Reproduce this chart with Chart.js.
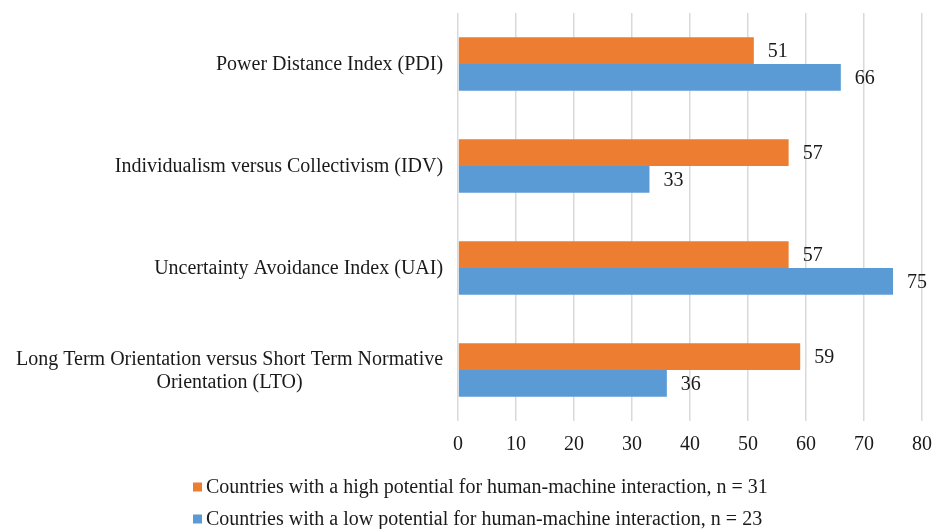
<!DOCTYPE html>
<html>
<head>
<meta charset="utf-8">
<script src="https://cdn.jsdelivr.net/npm/chart.js@4"></script>
<style>
  html, body { margin: 0; padding: 0; background: #fff; }
  #wrap { width: 932px; height: 529px; position: relative; }
</style>
</head>
<body>
<div id="wrap"><canvas id="chart"></canvas></div>
<script>
const categories = [
  ['Power Distance Index (PDI)'],
  ['Individualism versus Collectivism (IDV)'],
  ['Uncertainty Avoidance Index (UAI)'],
  ['Long Term Orientation versus Short Term Normative', 'Orientation (LTO)']
];
const highPotential = [51, 57, 57, 59];
const lowPotential = [66, 33, 75, 36];
const seriesNames = [
  'Countries with a high potential for human-machine interaction, n = 31',
  'Countries with a low potential for human-machine interaction, n = 23'
];
const seriesColors = ['#ED7D31', '#5B9BD5'];
const xTicks = { min: 0, max: 80, step: 10 };

const FONT = '"Liberation Serif", "Times New Roman", serif';
const TEXT = '#1a1a1a';
const LABEL_GAP = 15;

// value labels to the right of every bar
const valueLabels = {
  id: 'valueLabels',
  afterDatasetsDraw(chart) {
    const ctx = chart.ctx;
    ctx.save();
    ctx.font = '20px ' + FONT;
    ctx.fillStyle = TEXT;
    ctx.textAlign = 'left';
    ctx.textBaseline = 'middle';
    chart.data.datasets.forEach((ds, di) => {
      chart.getDatasetMeta(di).data.forEach((bar, i) => {
        ctx.fillText(ds.data[i], bar.x + 14, bar.y + 1);
      });
    });
    ctx.restore();
  }
};

// category labels: block right aligned, lines centred inside the block (Excel style)
const catLabels = {
  id: 'catLabels',
  afterDraw(chart) {
    const ctx = chart.ctx;
    const y = chart.scales.y;
    ctx.save();
    ctx.font = '20px ' + FONT;
    ctx.fillStyle = TEXT;
    ctx.textAlign = 'center';
    ctx.textBaseline = 'middle';
    const lh = 23;
    categories.forEach((lines, i) => {
      const w = Math.max(...lines.map(l => ctx.measureText(l).width));
      const cx = y.right - LABEL_GAP - w / 2;
      const cy = y.getPixelForTick(i) + 1;
      lines.forEach((l, k) => {
        ctx.fillText(l, cx, cy + (k - (lines.length - 1) / 2) * lh);
      });
    });
    ctx.restore();
  }
};

// legend, one row per series, small squares like the original
const rowLegend = {
  id: 'rowLegend',
  afterDraw(chart) {
    const ctx = chart.ctx;
    ctx.save();
    ctx.font = '20px ' + FONT;
    ctx.textAlign = 'left';
    ctx.textBaseline = 'middle';
    const x0 = 193;
    chart.data.datasets.forEach((ds, i) => {
      const cy = chart.height - 42 + i * 32;
      ctx.fillStyle = ds.backgroundColor;
      ctx.fillRect(x0, cy - 4.5, 9, 9);
      ctx.fillStyle = TEXT;
      ctx.fillText(ds.label, x0 + 13, cy + 1);
    });
    ctx.restore();
  }
};

new Chart(document.getElementById('chart'), {
  type: 'bar',
  data: {
    labels: categories,
    datasets: [
      { label: seriesNames[0], data: highPotential, backgroundColor: seriesColors[0] },
      { label: seriesNames[1], data: lowPotential, backgroundColor: seriesColors[1] }
    ]
  },
  options: {
    indexAxis: 'y',
    responsive: true,
    maintainAspectRatio: false,
    animation: false,
    layout: { padding: { top: 13, left: 16, right: 0, bottom: 60 } },
    datasets: { bar: { categoryPercentage: 0.525, barPercentage: 1.0 } },
    scales: {
      x: {
        min: xTicks.min, max: xTicks.max,
        ticks: { stepSize: xTicks.step, color: TEXT, font: { family: FONT, size: 20 }, padding: 12 },
        grid: { color: '#d9d9d9', lineWidth: 1.5, drawTicks: false },
        border: { display: false },
        afterFit(scale) {
          scale.paddingLeft = 0;
          scale.paddingRight = 10;
        }
      },
      y: {
        ticks: { display: false },
        grid: { display: false, drawTicks: false },
        border: { display: false },
        // reserve room for the labels drawn by catLabels
        afterFit(scale) {
          const ctx = scale.ctx;
          ctx.save();
          ctx.font = '20px ' + FONT;
          let w = 0;
          categories.forEach(lines => lines.forEach(l => { w = Math.max(w, ctx.measureText(l).width); }));
          ctx.restore();
          scale.width = w + LABEL_GAP;
        }
      }
    },
    plugins: {
      legend: { display: false },
      tooltip: { enabled: false }
    }
  },
  plugins: [valueLabels, catLabels, rowLegend]
});
</script>
</body>
</html>
